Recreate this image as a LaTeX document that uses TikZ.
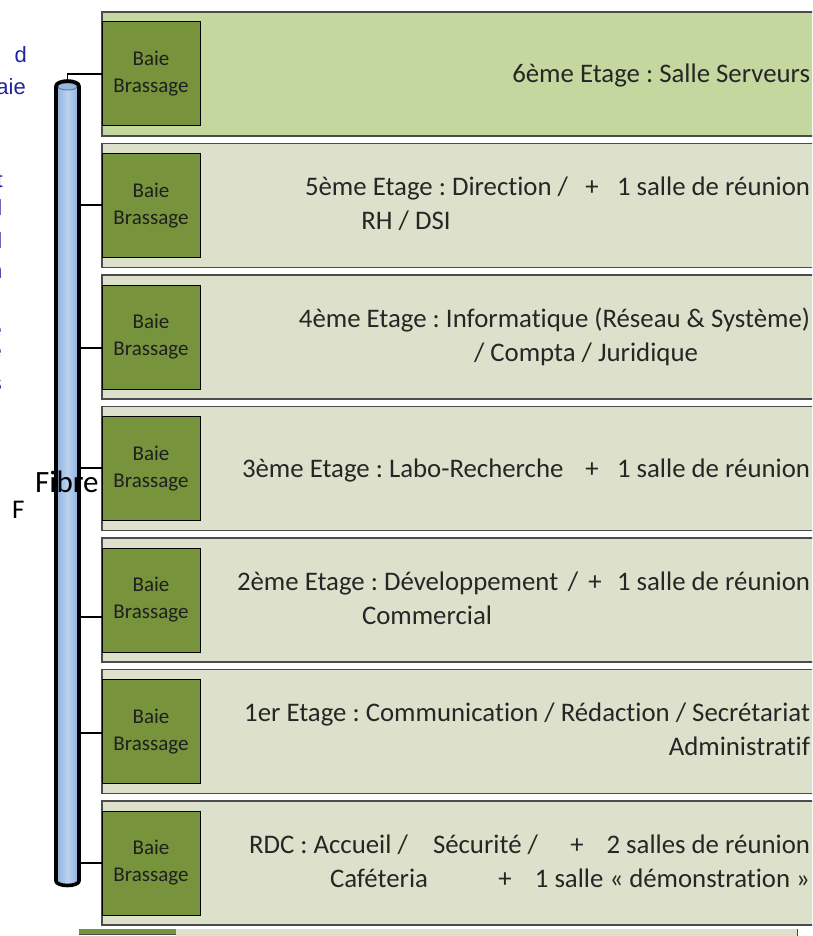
\documentclass[tikz,border=0pt]{standalone}
\usepackage{fontspec}
\setmainfont{Carlito}[Ligatures=NoCommon]
\newfontfamily\arialf{Liberation Sans}
\definecolor{floorTop}{HTML}{C4D79F}
\definecolor{floorFill}{HTML}{DDE1CB}
\definecolor{baieG}{HTML}{77933C}
\definecolor{cylEdge}{HTML}{8DAEDB}
\definecolor{cylMid}{HTML}{BCD3F0}
\definecolor{cylTop}{HTML}{9AB7DF}
\definecolor{blueTxt}{HTML}{2323A0}
\frenchspacing
\begin{document}
\begin{tikzpicture}[x=1pt,y=-1pt,
  floor/.style={draw=black!70, line width=1.3pt, minimum width=740pt, minimum height=124pt, anchor=north west, inner sep=0pt, outer sep=0pt},
  baie/.style={draw=black, line width=1pt, fill=baieG, minimum width=98pt, minimum height=104pt, anchor=north west, inner sep=0pt, outer sep=0pt, align=center, font=\fontsize{21}{27}\selectfont, text=black!88},
  ft/.style={font=\fontsize{26.8}{32}\selectfont, text=black!85, inner sep=0pt, outer sep=0pt},
  link/.style={draw=black, line width=1.2pt},
  bt/.style={font=\arialf\fontsize{22}{26}\selectfont, text=blueTxt, inner sep=0pt}]
\useasboundingbox (0,0) rectangle (812,936);
\clip (0,0) rectangle (812,936);

% floors
\node[floor, fill=floorTop]  (f6) at (102,12) {};
\node[floor, fill=floorFill] (f5) at (102,143.5) {};
\node[floor, fill=floorFill] (f4) at (102,275) {};
\node[floor, fill=floorFill] (f3) at (102,406.5) {};
\node[floor, fill=floorFill] (f2) at (102,538) {};
\node[floor, fill=floorFill] (f1) at (102,669.5) {};
\node[floor, fill=floorFill] (f0) at (102,801) {};

% bottom strip (next row, cut off)
\fill[floorFill] (176,929) rectangle (797,940);
\draw[black!70, line width=1pt] (797,929) -- (797,940);
\fill[baieG] (79,929) rectangle (176,934);
\draw[black!70, line width=1pt] (79,934) -- (176,934);

% baies
\node[baie] (b6) at (102,22) {Baie\\Brassage};
\node[baie] (b5) at (102,153.5) {Baie\\Brassage};
\node[baie] (b4) at (102,285) {Baie\\Brassage};
\node[baie] (b3) at (102,416.5) {Baie\\Brassage};
\node[baie] (b2) at (102,548) {Baie\\Brassage};
\node[baie] (b1) at (102,679.5) {Baie\\Brassage};
\node[baie] (b0) at (102,811) {Baie\\Brassage};

% floor texts
\node[ft, anchor=base east] (t6) at (810,83) {6ème Etage : Salle Serveurs};

\node[ft, anchor=base west] (t5a) at (305,195.5) {5ème Etage : Direction /};
\node[ft, anchor=base] (t5p) at (592,195.5) {+};
\node[ft, anchor=base east] (t5b) at (810,195.5) {1 salle de réunion};
\node[ft, anchor=base] (t5c) at (406,229.5) {RH / DSI};

\node[ft, anchor=base east] (t4a) at (810,327) {4ème Etage : Informatique (Réseau \& Système)};
\node[ft, anchor=base] (t4b) at (586,361) {/ Compta / Juridique};

\node[ft, anchor=base west] (t3a) at (242,477.5) {3ème Etage : Labo-Recherche};
\node[ft, anchor=base] (t3p) at (592,477.5) {+};
\node[ft, anchor=base east] (t3b) at (810,477.5) {1 salle de réunion};

\node[ft, anchor=base west] (t2a) at (237,590) {2ème Etage : Développement};
\node[ft, anchor=base] (t2s) at (573,590) {/};
\node[ft, anchor=base] (t2p) at (595,590) {+};
\node[ft, anchor=base east] (t2b) at (810,590) {1 salle de réunion};
\node[ft, anchor=base west] (t2c) at (362,624) {Commercial};

\node[ft, anchor=base east] (t1a) at (810,721.5) {1er Etage : Communication / Rédaction / Secrétariat};
\node[ft, anchor=base east] (t1b) at (810,755.5) {Administratif};

\node[ft, anchor=base west] (t0a) at (249,853) {RDC : Accueil /};
\node[ft, anchor=base west] (t0s) at (433,853) {Sécurité /};
\node[ft, anchor=base] (t0p) at (577,853) {+};
\node[ft, anchor=base east] (t0b) at (810,853) {2 salles de réunion};
\node[ft, anchor=base west] (t0c) at (330,887) {Caféteria};
\node[ft, anchor=base] (t0q) at (505,887) {+};
\node[ft, anchor=base east] (t0d) at (810,887) {1 salle « démonstration »};

% cylinder
\shade[left color=cylEdge, right color=cylEdge, middle color=cylMid]
  (56,86) -- (56,881) arc (180:0:11.5 and 4.5) -- (79,86) arc (0:-180:11.5 and 5) -- cycle;
\draw[cylTop!60!black, fill=cylTop, line width=0.8pt] (67.5,86.5) ellipse [x radius=9.5, y radius=3.5];
\draw[black, line width=3.6pt, line join=round]
  (56,86) -- (56,881) arc (180:0:11.5 and 4.5) -- (79,86) arc (0:-180:11.5 and 5) -- cycle;

% connection points on the fibre
\coordinate (c6) at (67.5,81);
\coordinate (c5) at (81,205);
\coordinate (c4) at (81,348);
\coordinate (c3) at (81,468);
\coordinate (c2) at (81,617);
\coordinate (c1) at (81,733);
\coordinate (c0) at (81,863);
\draw[link] (c6) -- (c6 |- 0,74) -- (b6.west |- 0,74);
\draw[link] (c5) -- (c5 -| b5.west);
\draw[link] (c4) -- (c4 -| b4.west);
\draw[link] (c3) -- (c3 -| b3.west);
\draw[link] (c2) -- (c2 -| b2.west);
\draw[link] (c1) -- (c1 -| b1.west);
\draw[link] (c0) -- (c0 -| b0.west);

% labels
\node[inner sep=0pt, anchor=base west, font=\fontsize{31}{34}\selectfont] (fib) at (35,492) {Fibre};
\node[inner sep=0pt, anchor=base west, font=\fontsize{27}{32}\selectfont] (fib2) at (12,518) {F};

% cut-off blue text at the left edge
\node[bt, anchor=base east] (l1) at (27,63) {d};
\node[bt, anchor=base east] (l2) at (26,95) {aie};
\node[bt, anchor=base east] (l3) at (3,187) {t};
\node[bt, anchor=base east] (l4) at (2.5,215) {l};
\node[bt, anchor=base east] (l5) at (2.5,248) {l};
\node[bt, anchor=base east] (l6) at (2.5,278) {n};
\node[bt, anchor=base east] (l7) at (2,337) {e};
\node[bt, anchor=base east] (l8) at (2,358) {e};
\node[bt, anchor=base east] (l9) at (2,390) {s};
\end{tikzpicture}
\end{document}
